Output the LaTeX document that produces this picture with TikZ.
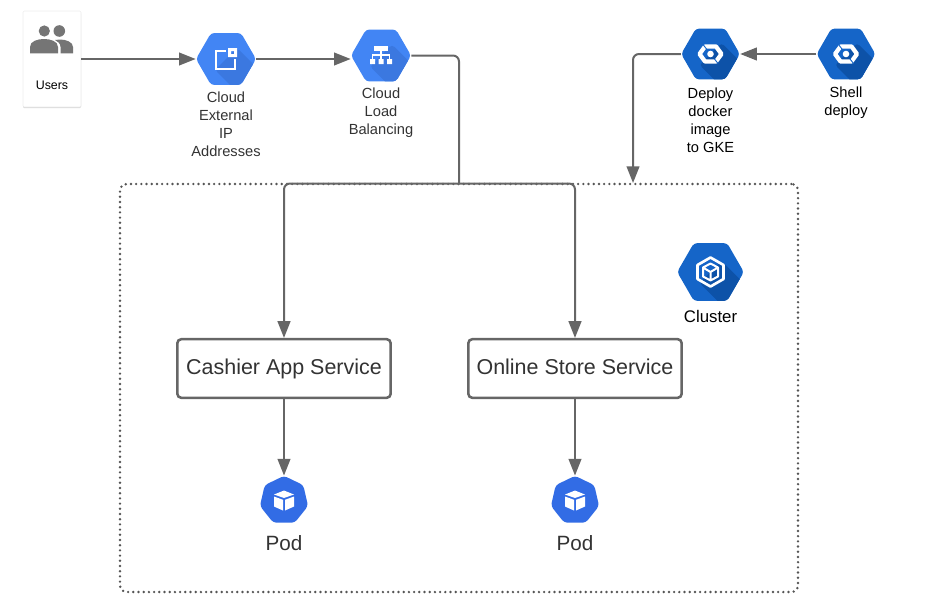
\documentclass[tikz,border=0pt]{standalone}
\usepackage{fontspec}
\setmainfont{Liberation Sans}
\usetikzlibrary{arrows.meta,shapes.geometric,shadows}
\definecolor{linkgray}{HTML}{666666}
\definecolor{dotgray}{HTML}{555555}
\definecolor{textgray}{HTML}{333333}
\definecolor{peoplegray}{HTML}{757575}
\definecolor{netblue}{HTML}{4285F4}
\definecolor{netshade}{HTML}{3B78E0}
\definecolor{deployblue}{HTML}{1565C8}
\definecolor{deployshade}{HTML}{0D52A8}
\definecolor{podblue}{HTML}{326CE5}
\tikzset{
  link/.style={draw=linkgray,line width=1.5pt,rounded corners=4.5pt,-{Triangle[length=12.5pt,width=9.5pt]}},
  wire/.style={draw=linkgray,line width=1.5pt,rounded corners=4.5pt},
  hexnode/.style n args={3}{regular polygon,regular polygon sides=6,rounded corners=2.5pt,
    inner sep=0pt,minimum size=#3,fill=#1,
    path picture={\fill[#2] (path picture bounding box.center) ++(11,-11) -- ++(-22,22)
      -- ++(45,45) -- ++(22,-22) -- cycle;}},
  podnode/.style={regular polygon,regular polygon sides=7,rounded corners=2.5pt,
    inner sep=0pt,minimum size=37pt,fill=podblue},
  servicebox/.style={draw=linkgray,line width=1.9pt,rounded corners=3pt,fill=white,
    minimum width=160pt,minimum height=44pt,inner sep=0pt,text=textgray,
    text height=11.5pt,text depth=3pt,font=\fontsize{16.1}{19}\selectfont},
  caption/.style={align=center,inner sep=0pt,text=textgray,font=\fontsize{11}{13.5}\selectfont},
  ipmark/.pic={
    \draw[white,line width=1.9pt] (0,-8) -- (-10,-8) -- (-10,10) -- (9,10) -- (9,0);
    \fill[white,even odd rule] (2,-11) rectangle (11,-2) (5,-8) rectangle (8,-5);
  },
  lbmark/.pic={
    \fill[white] (-7,-9.5) rectangle (7,-4.5);
    \fill[white] (-11,3.5) rectangle (-6,8.5) (-2.5,3.5) rectangle (2.5,8.5) (6,3.5) rectangle (11,8.5);
    \draw[white,line width=0.9pt] (0,-4.5) -- (0,3.5) (-8.5,3.5) -- (-8.5,-0.5) -- (8.5,-0.5) -- (8.5,3.5);
  },
  gearmark/.pic={
    \draw[white,line width=3.2pt,line join=round] (-11,0) -- (-5.5,-7.5) -- (5.5,-7.5) -- (11,0) -- (5.5,7.5) -- (-5.5,7.5) -- cycle;
    \fill[white] (0,0) circle [radius=3.3];
    \draw[deployblue,line width=0.7pt] (-7.5,-9.5) -- (-4,-5) (7.5,9.5) -- (4,5);
  },
  cubemark/.pic={
    \draw[white,line width=2pt,line join=round] (0,-14.5) -- (13,-7) -- (13,7) -- (0,14.5) -- (-13,7) -- (-13,-7) -- cycle;
    \draw[white,line width=1.5pt,line join=round] (0,-8.5) -- (7.5,-4.5) -- (7.5,4.5) -- (0,8.5) -- (-7.5,4.5) -- (-7.5,-4.5) -- cycle
      (-7.5,-4.5) -- (0,0) -- (7.5,-4.5) (0,0) -- (0,8.5);
  },
  podmark/.pic={
    \fill[white] (0,-10) -- (10,-6) -- (0,-2.5) -- (-10,-6) -- cycle;
    \fill[white] (-10,-4) -- (-1,-0.7) -- (-1,10) -- (-10,6) -- cycle;
    \fill[white] (10,-4) -- (1,-0.7) -- (1,10) -- (10,6) -- cycle;
  },
}
\begin{document}
\begin{tikzpicture}[x=0.75pt,y=-0.75pt]
  \useasboundingbox (0,0) rectangle (938,614);

  % Cluster frame
  \node[draw=dotgray,line width=2pt,dash pattern=on 0pt off 3.9pt,line cap=round,rounded corners=5pt,
    minimum width=508.5pt,minimum height=306pt,inner sep=0pt] (frame) at (459,388) {};

  % Users card
  \node[draw=black!7,fill=white,rounded corners=1pt,minimum width=43.5pt,minimum height=72pt,inner sep=0pt,
    drop shadow={shadow xshift=0pt,shadow yshift=-0.9pt,opacity=0.35}] (users) at (52,59) {};
  \fill[peoplegray] (44.3,31) circle [radius=5.6] (59.3,31) circle [radius=5.8];
  \fill[peoplegray] (30,53.3) -- (30,47) .. controls (30,41) and (38,39) .. (44,39)
    .. controls (50,39) and (58,41) .. (58,47) -- (58,53.3) -- cycle;
  \fill[peoplegray] (60,39.5) .. controls (66,39.5) and (73,42) .. (73,47) -- (73,53.3) -- (60.5,53.3)
    -- (60.5,47) .. controls (60.5,44) and (58,41) .. (55,40) -- cycle;
  \node[inner sep=0pt,font=\fontsize{9.3}{11}\selectfont] (userslabel) at (52,85) {Users};

  % Icons
  \node[hexnode={netblue}{netshade}{45pt}] (ip) at (226,59) {};
  \pic at (ip) {ipmark};
  \node[hexnode={netblue}{netshade}{45pt}] (lb) at (381,55.5) {};
  \pic at (lb) {lbmark};
  \node[hexnode={deployblue}{deployshade}{44pt}] (deploy) at (710.5,54) {};
  \pic at (deploy) {gearmark};
  \node[hexnode={deployblue}{deployshade}{44pt}] (shell) at (846,54) {};
  \pic at (shell) {gearmark};
  \node[hexnode={deployblue}{deployshade}{50pt}] (cluster) at (710.5,272) {};
  \pic at (cluster) {cubemark};

  % Labeling
  \node[caption] (iplabel) at (226,124) {Cloud\\External\\IP\\Addresses};
  \node[caption] (lblabel) at (381,112.5) {Cloud\\Load\\Balancing};
  \node[caption,text=black] (deploylabel) at (710.5,120) {Deploy\\docker\\image\\to GKE};
  \node[caption,text=black] (shelllabel) at (846,103) {Shell\\deploy};
  \node[inner sep=0pt,font=\fontsize{12.6}{15}\selectfont] (clusterlabel) at (710.5,316) {Cluster};

  % Services and pods
  \node[servicebox] (cashier) at (284,368.5) {Cashier App Service};
  \node[servicebox] (store) at (575,368.5) {Online Store Service};
  \node[podnode] (podleft) at (284,500.5) {};
  \pic at (podleft) {podmark};
  \node[podnode] (podright) at (575,500.5) {};
  \pic at (podright) {podmark};
  \node[inner sep=0pt,text=textgray,font=\fontsize{15.5}{18}\selectfont] (podleftlabel) at (284,543) {Pod};
  \node[inner sep=0pt,text=textgray,font=\fontsize{15.5}{18}\selectfont] (podrightlabel) at (575,543) {Pod};

  % Connectors
  \coordinate (split) at (459,183.5);
  \coordinate (drop) at (633,183);
  \draw[link] (users) -- (ip);
  \draw[link] (ip.east) -- (ip.east -| lb.west);
  \draw[wire] (lb.east) -| (split);
  \draw[link] (split) -| (cashier.north);
  \draw[link] (split) -| (store.north);
  \draw[link] (cashier) -- (podleft);
  \draw[link] (store) -- (podright);
  \draw[link] (shell) -- (deploy);
  \draw[link] (deploy.west) -| (drop);
\end{tikzpicture}
\end{document}
